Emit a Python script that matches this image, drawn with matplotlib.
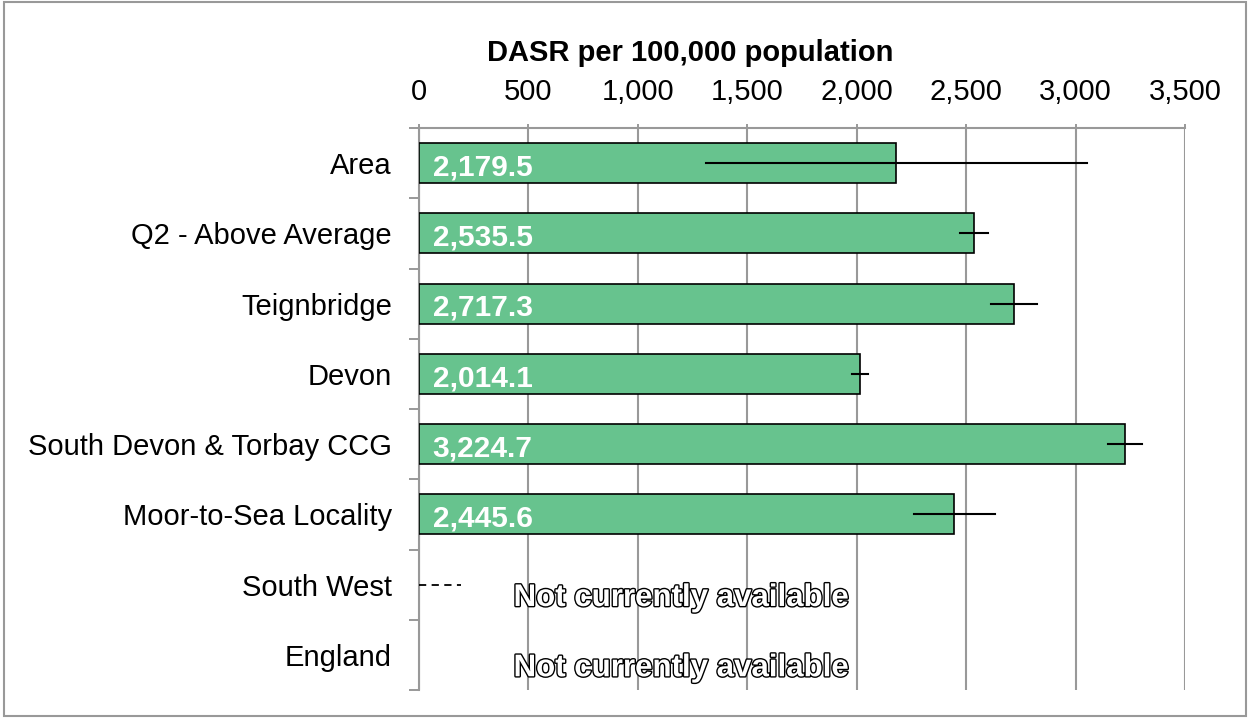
import numpy as np
import matplotlib.pyplot as plt
import matplotlib.patheffects as pe

plt.rcParams['font.family'] = ['Liberation Sans', 'DejaVu Sans']

categories = ['Area', 'Q2 - Above Average', 'Teignbridge', 'Devon',
              'South Devon & Torbay CCG', 'Moor-to-Sea Locality',
              'South West', 'England']
values = [2179.5, 2535.5, 2717.3, 2014.1, 3224.7, 2445.6, np.nan, np.nan]
ci_low = [1311, 2471, 2613, 1978, 3148, 2261, np.nan, np.nan]
ci_high = [3052, 2599, 2823, 2051, 3303, 2631, np.nan, np.nan]
ticks = [0, 500, 1000, 1500, 2000, 2500, 3000, 3500]
missing_text = 'Not currently available'

fig = plt.figure(figsize=(12.5, 7.18), dpi=100)
ax = fig.add_axes([419/1250, 1-690/718, 766/1250, 562/718])

n = len(categories)
y = np.arange(n)
green = '#67C38E'

for i in range(n):
    if np.isnan(values[i]):
        continue
    ax.barh(y[i], values[i], height=0.57, color=green, edgecolor='black',
            lw=1.2, zorder=3)
    ax.plot([ci_low[i], ci_high[i]], [y[i], y[i]], color='black', lw=1.5,
            zorder=4)
    ax.text(62, y[i] + 0.06, '{:,.1f}'.format(values[i]), color='white',
            fontsize=21.5, fontweight='bold', ha='left', va='center', zorder=5)

# placeholder dash for South West
ax.plot([0, 190], [6, 6], color='black', lw=1.3, ls=(0, (4, 3)), zorder=4)

for i in range(n):
    if np.isnan(values[i]):
        ax.text(1197, y[i] + 0.19, missing_text, color='white', fontsize=22.5,
                fontweight='bold', ha='center', va='center', zorder=5,
                path_effects=[pe.Stroke(linewidth=2.0, foreground='black'),
                              pe.Normal()])

ax.set_xlim(0, 3500)
ax.set_ylim(n - 0.5, -0.5)
ax.xaxis.tick_top()
ax.xaxis.set_label_position('top')
ax.set_xticks(ticks)
ax.set_xticklabels(['{:,}'.format(t) for t in ticks], fontsize=21)
ax.tick_params(axis='x', length=3, width=1.2, color='#888888', pad=13)
ax.set_xlabel('DASR per 100,000 population', fontsize=21, fontweight='bold',
              labelpad=12)
ax.xaxis.label.set_x((690 - 419) / 766)

ax.set_yticks(y)
ax.set_yticklabels(categories, fontsize=21)
ax.tick_params(axis='y', length=0, pad=19.5)
ax.set_yticks(np.arange(-0.5, n, 1), minor=True)
ax.tick_params(axis='y', which='minor', length=7, width=1.2, color='#888888')

ax.grid(axis='x', color='#999999', lw=1.5, zorder=0)
for s in ['right', 'bottom']:
    ax.spines[s].set_visible(False)
ax.spines['top'].set_color('#999999')
ax.spines['top'].set_linewidth(1.5)
ax.spines['left'].set_color('#999999')
ax.spines['left'].set_linewidth(1.5)

border = plt.Rectangle((0.003, 0.003), 0.994, 0.994, transform=fig.transFigure,
                       fill=False, edgecolor='#999999', lw=1.5)
fig.patches.append(border)

fig.savefig('out.png', dpi=100)
